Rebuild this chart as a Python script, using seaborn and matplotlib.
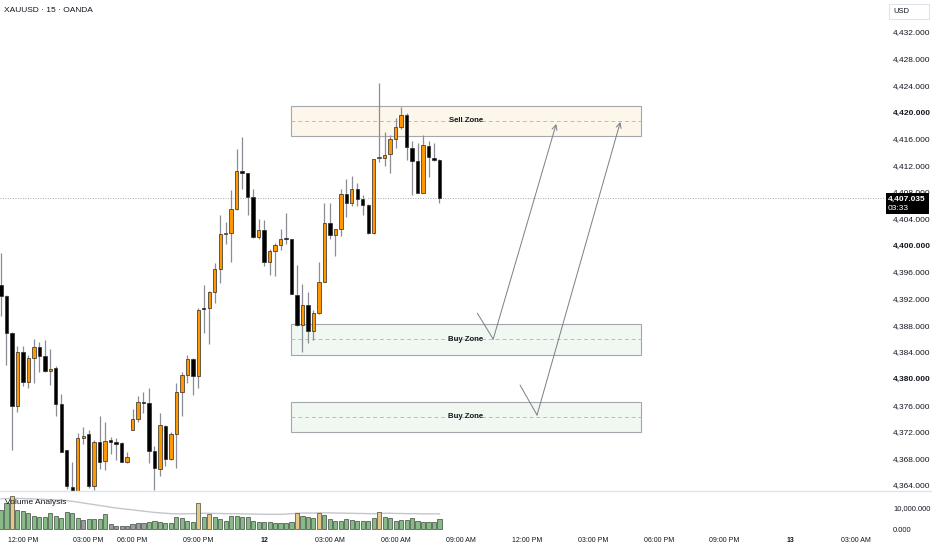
import matplotlib
matplotlib.use("Agg")
import matplotlib.pyplot as plt
import matplotlib.patches as mpatches
from matplotlib.lines import Line2D
import numpy as np
import pandas as pd
import seaborn as sns

sns.set_style("white")
plt.rcParams['font.family'] = ['Liberation Sans', 'DejaVu Sans']

W, H = 932, 550

# 15 min candles, XAUUSD
opens = [4394.0, 4392.3, 4386.8, 4375.9, 4383.9, 4379.5, 4383.0, 4384.7, 4383.4, 4381.1,
         4381.5, 4376.2, 4369.2, 4363.7, 4363.0, 4371.0, 4371.6, 4363.9, 4370.4, 4367.6,
         4370.7, 4370.4, 4370.3, 4367.4, 4372.3, 4373.9, 4376.5, 4376.3, 4369.1, 4366.4,
         4372.9, 4367.9, 4371.7, 4378.0, 4380.5, 4382.9, 4380.4, 4390.5, 4390.5, 4393.0,
         4396.4, 4401.7, 4401.9, 4405.4, 4411.2, 4410.8, 4407.3, 4401.2, 4402.3, 4397.4,
         4399.1, 4400.1, 4401.1, 4400.9, 4392.5, 4388.0, 4391.0, 4387.1, 4389.8, 4394.5,
         4403.4, 4401.5, 4402.4, 4407.7, 4406.3, 4408.5, 4406.9, 4406.1, 4401.8, 4413.1,
         4413.1, 4413.7, 4415.9, 4417.8, 4419.5, 4414.6, 4412.7, 4407.9, 4414.9, 4413.1,
         4412.8]
highs = [4398.8, 4392.5, 4387.0, 4384.9, 4384.9, 4383.5, 4385.9, 4385.5, 4385.7, 4384.4,
         4381.9, 4377.7, 4369.2, 4367.4, 4371.8, 4372.7, 4372.2, 4370.8, 4374.3, 4373.4,
         4371.2, 4371.0, 4370.4, 4368.9, 4375.4, 4377.3, 4378.0, 4378.5, 4369.8, 4374.8,
         4373.0, 4371.9, 4379.3, 4381.0, 4383.5, 4383.0, 4390.6, 4394.0, 4393.1, 4397.3,
         4404.6, 4403.5, 4408.3, 4414.4, 4416.2, 4410.9, 4408.5, 4403.9, 4403.8, 4399.4,
         4400.4, 4402.4, 4404.8, 4401.0, 4397.0, 4394.1, 4393.0, 4390.3, 4397.4, 4406.3,
         4406.4, 4402.5, 4408.4, 4410.0, 4410.4, 4409.4, 4407.5, 4406.2, 4413.0, 4424.3,
         4417.0, 4416.5, 4419.1, 4420.8, 4419.9, 4415.6, 4415.3, 4416.6, 4415.7, 4415.4,
         4412.9]
lows = [4389.3, 4382.0, 4369.2, 4375.0, 4378.8, 4378.5, 4379.3, 4381.0, 4381.0, 4379.0,
        4374.4, 4368.9, 4363.4, 4362.5, 4362.3, 4370.2, 4363.5, 4363.3, 4366.4, 4366.3,
        4368.7, 4367.8, 4367.4, 4367.3, 4372.2, 4373.5, 4374.8, 4367.3, 4363.3, 4365.3,
        4366.8, 4367.8, 4366.5, 4374.3, 4379.3, 4377.5, 4378.5, 4386.8, 4385.2, 4391.3,
        4394.3, 4400.2, 4397.5, 4405.3, 4408.5, 4404.5, 4401.1, 4400.9, 4396.8, 4395.5,
        4395.4, 4399.2, 4400.2, 4392.6, 4387.9, 4384.0, 4385.3, 4385.8, 4389.7, 4394.4,
        4401.0, 4398.3, 4401.4, 4404.3, 4405.9, 4405.9, 4404.5, 4401.7, 4401.7, 4412.5,
        4411.9, 4410.9, 4414.6, 4417.4, 4412.8, 4407.5, 4407.8, 4407.8, 4410.3, 4412.7,
        4406.4]
closes = [4392.3, 4386.8, 4375.9, 4383.9, 4379.4, 4383.0, 4384.7, 4383.4, 4381.1, 4381.4,
          4376.2, 4369.0, 4363.8, 4363.1, 4371.0, 4371.4, 4363.8, 4370.4, 4367.5, 4370.6,
          4370.5, 4370.1, 4367.5, 4368.2, 4373.9, 4376.5, 4376.3, 4369.1, 4366.5, 4373.0,
          4367.9, 4371.7, 4378.0, 4380.5, 4382.9, 4380.4, 4390.3, 4390.4, 4393.0, 4396.4,
          4401.7, 4401.9, 4405.4, 4411.2, 4410.8, 4407.3, 4401.2, 4402.3, 4397.4, 4399.1,
          4400.1, 4401.0, 4400.9, 4392.7, 4388.0, 4391.0, 4387.1, 4389.8, 4394.5, 4403.4,
          4401.5, 4402.4, 4407.7, 4406.3, 4408.5, 4406.9, 4406.1, 4401.8, 4412.9, 4413.2,
          4413.6, 4415.9, 4417.7, 4419.6, 4414.7, 4412.7, 4407.9, 4415.0, 4413.2, 4412.8,
          4407.035]

volumes = [9050, 12540, 15710, 9050, 8730, 7460, 6190, 5870, 5870, 7460,
           6190, 5080, 8250, 7460, 5080, 4290, 4600, 4600, 4600, 6980,
           2380, 1430, 1430, 1430, 2220, 2700, 2700, 3490, 3970, 3330,
           2700, 3020, 5870, 5080, 3970, 3490, 12220, 5870, 7140, 5550,
           4600, 3970, 6190, 6190, 5870, 5550, 3970, 3170, 3170, 3170,
           2700, 2700, 2700, 3490, 7780, 6190, 5550, 5080, 7780, 6670,
           4600, 3970, 3970, 4600, 4290, 3970, 3970, 3970, 5080, 8250,
           5870, 5080, 3810, 4290, 4290, 5400, 3810, 3490, 3490, 3490,
           4600]
vol_level = (["normal"] * 2 + ["high"] + ["normal"] * 12 + ["low"] + ["normal"] * 4
             + ["low"] * 7 + ["normal"] * 9 + ["high", "normal", "high"] + ["normal"] * 15
             + ["high"] + ["normal"] * 3 + ["high"] + ["normal"] * 10 + ["high"] + ["normal"] * 11)
vol_ma = [14400, 14500, 14600, 14600, 14500, 14400, 14300, 14200, 14100, 14000,
          13900, 13700, 13500, 13200, 12800, 12400, 12000, 11600, 11200, 10800,
          10400, 10000, 9700, 9400, 9100, 8800, 8500, 8200, 7900, 7700,
          7500, 7300, 7200, 7200, 7300, 7300, 7400, 7500, 7500, 7400,
          7400, 7300, 7300, 7300, 7200, 7200, 7100, 7100, 7000, 7000,
          7000, 7000, 7100, 7300, 7500, 7600, 7600, 7600, 7700, 7700,
          7700, 7600, 7600, 7500, 7500, 7400, 7400, 7300, 7300, 7400,
          7500, 7500, 7400, 7400, 7300, 7300, 7300, 7200, 7200, 7200,
          7200]

last_price = 4407.035
time_ticks = [4, 16, 24, 36, 48, 60, 72, 84, 96, 108, 120, 132, 144, 156]
time_labels = ["12:00 PM", "03:00 PM", "06:00 PM", "09:00 PM", "12", "03:00 AM", "06:00 AM",
               "09:00 AM", "12:00 PM", "03:00 PM", "06:00 PM", "09:00 PM", "13", "03:00 AM"]
price_ticks = [4364, 4368, 4372, 4376, 4380, 4384, 4388, 4392, 4396, 4400,
               4404, 4408, 4412, 4416, 4420, 4424, 4428, 4432]

# drawings
zone_names = ["Sell Zone", "Buy Zone", "Buy Zone"]
zone_top = [4420.9, 4388.2, 4376.5]
zone_bottom = [4416.4, 4383.5, 4372.0]
zone_fill = ["#fdf6ea", "#f1f7f1", "#f1f7f1"]
zone_start, zone_end = 52.9, 116.8
path1_x = [86.9, 89.8, 101.3]
path1_y = [4389.8, 4385.9, 4418.2]
path2_x = [94.7, 97.8, 113.0]
path2_y = [4379.0, 4374.5, 4418.5]

fig = plt.figure(figsize=(W / 100, H / 100), dpi=100)
fig.patch.set_facecolor("white")


def px_axes(left, top, right, bottom):
    return fig.add_axes([left / W, 1 - bottom / H, (right - left) / W, (bottom - top) / H])


ax = px_axes(0, 0, 884, 491)
vax = px_axes(0, 491, 884, 533)
xlim = (-0.18, 161.1)

idx = np.arange(len(closes))
o = np.array(opens)
c = np.array(closes)
up = c >= o

# zones
for name, top, bot, fc in zip(zone_names, zone_top, zone_bottom, zone_fill):
    ax.add_patch(mpatches.Rectangle((zone_start, bot), zone_end - zone_start, top - bot,
                                    facecolor=fc, edgecolor="#a3a6ad", lw=0.8, zorder=1))
    mid = (top + bot) / 2
    ax.hlines(mid, zone_start, zone_end, colors="#b9bcc3", linestyles=(0, (4, 3)), lw=0.7, zorder=1)
    ax.text((zone_start + zone_end) / 2, mid, name, ha="center", va="center",
            fontsize=5.6, fontweight="bold", color="#131722", zorder=5)

# candles
ax.vlines(idx, lows, highs, colors="#8a8d95", lw=0.9, zorder=2)
body_h = np.maximum(np.abs(c - o), 0.18)
body_b = np.minimum(o, c)
ax.bar(idx, body_h, bottom=body_b, width=0.62,
       color=np.where(up, "#ff9800", "#000000"), edgecolor="#2a2a2a", lw=0.5, zorder=3)

ax.axhline(last_price, color="#8a8d96", ls=(0, (1, 2)), lw=0.6, zorder=2)

for px, py in [(path1_x, path1_y), (path2_x, path2_y)]:
    ax.plot(px[:2], py[:2], color="#7b7e87", lw=0.7, zorder=4)
    ax.annotate("", xy=(px[2], py[2]), xytext=(px[1], py[1]),
                arrowprops=dict(arrowstyle="->", color="#7b7e87", lw=0.7,
                                shrinkA=0, shrinkB=0, mutation_scale=9), zorder=4)

ax.set_xlim(*xlim)
ax.set_ylim(4363.1, 4436.8)
ax.yaxis.tick_right()
ax.set_yticks(price_ticks)
ax.set_yticklabels([f"{v:,.3f}" for v in price_ticks])
ax.tick_params(axis="y", length=0, pad=6.5, labelsize=6, labelcolor="#131722")
for lab, v in zip(ax.get_yticklabels(), price_ticks):
    if v in (4380, 4400, 4420):
        lab.set_fontweight("bold")
ax.set_xticks([])
sns.despine(ax=ax, left=True, bottom=True, right=True, top=True)

# volume pane
vdf = pd.DataFrame({"bar": idx, "volume": volumes, "level": vol_level})
sns.barplot(data=vdf, x="bar", y="volume", hue="level", native_scale=True, dodge=False,
            palette={"normal": "#7dc47f", "high": "#f5cf74", "low": "#9a9ca3"},
            edgecolor="#3f4a3f", linewidth=0.5, width=0.75, legend=False, ax=vax, zorder=3)
sns.lineplot(x=idx, y=vol_ma, color="#c4c6cc", lw=1.0, ax=vax, zorder=2)
vax.set_xlim(*xlim)
vax.set_ylim(-1900, 18100)
vax.yaxis.tick_right()
vax.set_yticks([0, 10000])
vax.set_yticklabels(["0.000", "10,000.000"])
vax.tick_params(axis="y", length=0, pad=6.5, labelsize=5.4, labelcolor="#131722")
vax.set_xticks(time_ticks)
vax.set_xticklabels(time_labels)
vax.tick_params(axis="x", length=0, pad=3, labelsize=5.0, labelcolor="#131722")
for lab in vax.get_xticklabels():
    if lab.get_text() in ("12", "13"):
        lab.set_fontweight("bold")
vax.set_xlabel("")
vax.set_ylabel("")
sns.despine(ax=vax, left=True, bottom=True, right=True, top=True)

# chrome
fig.add_artist(Line2D([0, 1], [1 - 491 / H] * 2, transform=fig.transFigure, color="#e0e3eb", lw=1))
fig.text(4 / W, 1 - 11 / H, "XAUUSD · 15 · OANDA", fontsize=6, color="#131722", va="center")
fig.text(5 / W, 1 - 503 / H, "Volume Analysis", fontsize=6, color="#131722", va="center")
fig.add_artist(mpatches.Rectangle((889 / W, 1 - 19 / H), 40 / W, 15 / H, transform=fig.transFigure,
                                  facecolor="white", edgecolor="#e0e3eb", lw=0.8))
fig.text(893 / W, 1 - 11.5 / H, "USD", fontsize=5.5, color="#131722", va="center")
fig.add_artist(mpatches.Rectangle((886 / W, 1 - 214 / H), 43 / W, 21 / H, transform=fig.transFigure,
                                  facecolor="#000000", edgecolor="none"))
fig.text(888 / W, 1 - 199 / H, f"{last_price:,.3f}", fontsize=6, fontweight="bold",
         color="white", va="center")
fig.text(888 / W, 1 - 209 / H, "03:33", fontsize=6, color="white", va="center")

fig.savefig("out.png", dpi=100)
